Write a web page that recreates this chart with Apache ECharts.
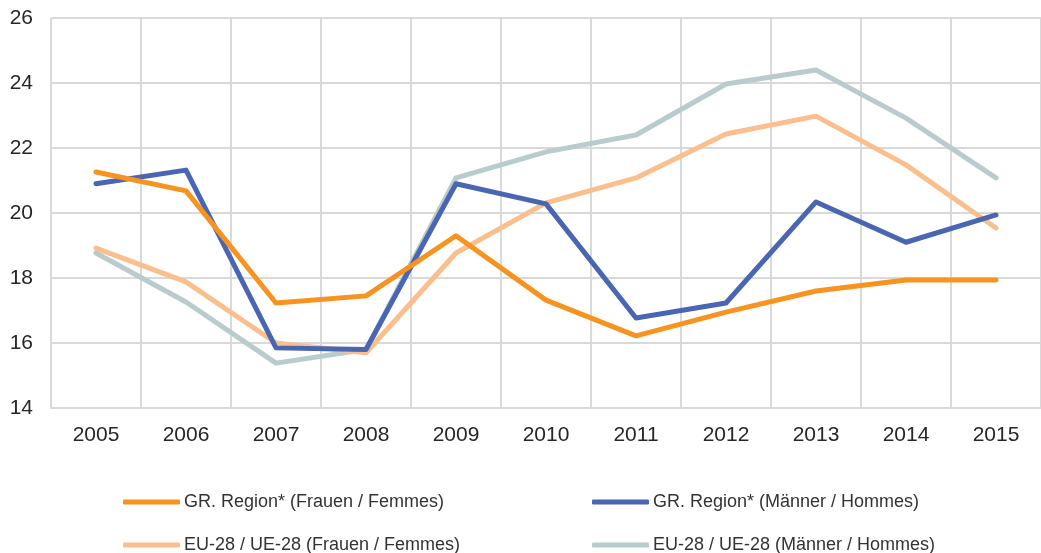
<!DOCTYPE html>
<html>
<head>
<meta charset="utf-8">
<script src="https://cdn.jsdelivr.net/npm/echarts@6/dist/echarts.min.js"></script>
<style>
  html, body { margin: 0; padding: 0; background: #fff; }
  #chart { width: 1041px; height: 553px; }
</style>
</head>
<body>
<div id="chart"></div>
<script>
var years = ['2005','2006','2007','2008','2009','2010','2011','2012','2013','2014','2015'];
var grFrauen = [21.26, 20.68, 17.23, 17.45, 19.3, 17.32, 16.22, 16.95, 17.6, 17.94, 17.94];
var grMaenner = [20.9, 21.32, 15.85, 15.8, 20.9, 20.28, 16.77, 17.23, 20.34, 19.1, 19.94];
var euFrauen = [18.92, 17.88, 16.0, 15.7, 18.77, 20.31, 21.08, 22.43, 22.98, 21.48, 19.54];
var euMaenner = [18.77, 17.26, 15.38, 15.8, 21.08, 21.88, 22.4, 23.97, 24.4, 22.92, 21.08];

var names = [
    'GR. Region* (Frauen / Femmes)',
    'GR. Region* (Männer / Hommes)',
    'EU-28 / UE-28 (Frauen / Femmes)',
    'EU-28 / UE-28 (Männer / Hommes)'
];
var colors = ['#f7931e', '#4a65b2', '#fbbf8e', '#b8cbcd'];
var values = [grFrauen, grMaenner, euFrauen, euMaenner];

// legend positions: two columns, two rows
var legendPos = [[123, 493], [592, 493], [123, 536], [592, 536]];

var legends = names.map(function(n, i){
    return {
        data: [n],
        left: legendPos[i][0],
        top: legendPos[i][1],
        padding: 0,
        itemWidth: 57,
        itemHeight: 5,
        itemGap: 4,
        icon: 'roundRect',
        textStyle: { fontFamily: 'Liberation Sans', fontSize: 18, color: '#333', padding: [0, 0, 0, -1] }
    };
});

var series = names.map(function(n, i){
    return {
        name: n,
        type: 'line',
        data: values[i],
        symbol: 'none',
        lineStyle: { width: 5, color: colors[i], cap: 'round', join: 'round' },
        itemStyle: { color: colors[i] }
    };
});
// orange on top, grey at the back
series[0].z = 4; series[1].z = 3; series[2].z = 2; series[3].z = 1;

var option = {
    animation: false,
    backgroundColor: '#fff',
    legend: legends,
    grid: { left: 51, top: 18, width: 997, height: 390 },
    xAxis: {
        type: 'category',
        data: years,
        boundaryGap: true,
        axisLine: { lineStyle: { color: '#d9d9d9', width: 2 } },
        axisTick: { show: false },
        splitLine: { show: true, lineStyle: { color: '#d9d9d9', width: 2 } },
        axisLabel: { fontFamily: 'Liberation Sans', fontSize: 21, color: '#262626', margin: 17 }
    },
    yAxis: {
        type: 'value',
        min: 14,
        max: 26,
        interval: 2,
        axisLine: { show: false },
        axisTick: { show: false },
        splitLine: { lineStyle: { color: '#d9d9d9', width: 2 } },
        axisLabel: { fontFamily: 'Liberation Sans', fontSize: 21, color: '#262626', margin: 18 }
    },
    series: series
};

var myChart = echarts.init(document.getElementById('chart'));
myChart.setOption(option);
</script>
</body>
</html>
